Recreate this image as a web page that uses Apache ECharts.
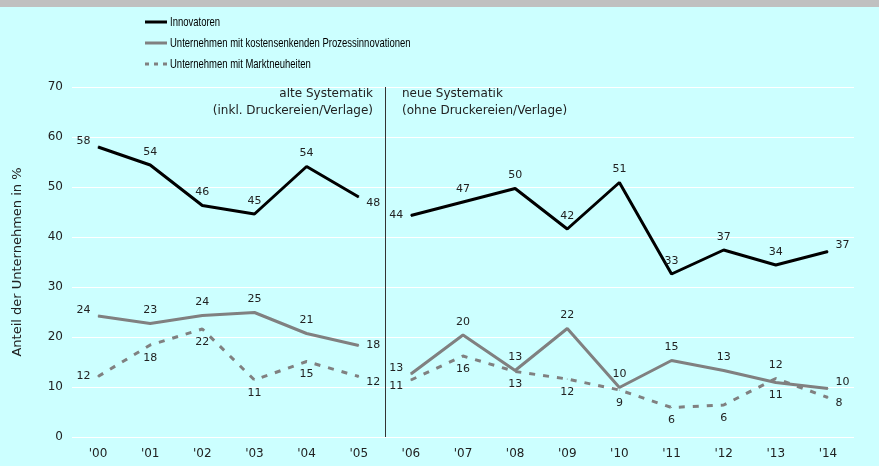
<!DOCTYPE html>
<html lang="de">
<head>
    <meta charset="UTF-8">
    <title>Innovatoren</title>
    <script src="https://cdn.jsdelivr.net/npm/echarts@6/dist/echarts.min.js"></script>
    <style>
        html, body { margin: 0; padding: 0; background: #ccffff; }
        #chart { width: 879px; height: 466px; }
    </style>
</head>
<body>
    <div id="chart"></div>
    <script>
        var years = ["'00", "'01", "'02", "'03", "'04", "'05", "'06", "'07", "'08", "'09", "'10", "'11", "'12", "'13", "'14"];
        var yTicks = [0, 10, 20, 30, 40, 50, 60, 70];
        var innovatoren = [58, 54.4, 46.3, 44.6, 54.1, 48, 44.3, 47, 49.7, 41.6, 50.9, 32.6, 37.4, 34.4, 37.1];
        var prozess = [24.2, 22.7, 24.3, 24.9, 20.7, 18.3, 12.6, 20.4, 13.3, 21.7, 9.9, 15.3, 13.3, 10.9, 9.7];
        var markt = [12.1, 18.4, 21.6, 11.4, 15.1, 12.1, 11.4, 16.2, 13.1, 11.6, 9.4, 5.9, 6.4, 11.7, 7.9];
        var names = ['Innovatoren', 'Unternehmen mit kostensenkenden Prozessinnovationen', 'Unternehmen mit Marktneuheiten'];
        var breakIndex = 6; // ab '06 neue Systematik

        // Lage der Beschriftung je Punkt
        var posInno = ['left-up', 'top', 'top', 'top', 'top', 'right-down', 'left', 'top', 'top', 'top', 'top', 'top', 'top', 'top', 'right-up'];
        var posProz = ['left-up', 'top', 'top', 'top', 'top', 'right', 'left-up', 'top', 'top', 'top', 'top', 'top', 'top', 'bottom', 'right-up'];
        var posMarkt = ['left', 'bottom', 'bottom', 'bottom', 'bottom', 'right-down', 'left-down', 'bottom', 'bottom', 'bottom', 'bottom', 'bottom', 'bottom', 'top', 'right-down'];

        var labelFont = 'DejaVu Sans, Verdana, sans-serif';

        function part(values, pos, from, to) {
            return values.map(function (v, i) {
                if (i < from || i >= to) return '-';
                var p = pos[i].split('-');
                var dy = p[1] === 'up' ? -6 : (p[1] === 'down' ? 6 : 0);
                return { value: v, label: { position: p[0], offset: [0, dy] } };
            });
        }

        function makeSeries(name, values, pos, lineStyle) {
            var base = {
                name: name,
                type: 'line',
                symbol: 'circle',
                symbolSize: 1,
                showSymbol: true,
                lineStyle: lineStyle,
                itemStyle: { color: lineStyle.color },
                label: {
                    show: true,
                    color: '#222',
                    fontFamily: labelFont,
                    fontSize: 11,
                    distance: 7,
                    formatter: function (p) { return Math.round(p.value); }
                },
                animation: false
            };
            var a = Object.assign({}, base, { data: part(values, pos, 0, breakIndex) });
            var b = Object.assign({}, base, { data: part(values, pos, breakIndex, values.length) });
            return [a, b];
        }

        var series = [].concat(
            makeSeries(names[0], innovatoren, posInno, { color: '#000', width: 3, type: 'solid' }),
            makeSeries(names[1], prozess, posProz, { color: '#808080', width: 3, type: 'solid' }),
            makeSeries(names[2], markt, posMarkt, { color: '#808080', width: 3, type: [6, 8] })
        );

        // Trennlinie zwischen alter und neuer Systematik
        series.push({
            name: 'trenn',
            type: 'line',
            xAxisIndex: 1,
            data: [],
            markLine: {
                silent: true,
                symbol: 'none',
                label: { show: false },
                lineStyle: { color: '#333', width: 1, type: 'solid' },
                data: [{ xAxis: breakIndex }]
            },
            animation: false
        });

        // Legende (Schrift schmal gestaucht wie im Original)
        var legendFont = '13px Liberation Sans, Arial, sans-serif';
        var legendItems = [
            { type: 'line', shape: { x1: 145, y1: 22, x2: 167, y2: 22 }, style: { stroke: '#000', lineWidth: 3 } },
            { type: 'text', x: 170, y: 22, scaleX: 0.73, style: { text: names[0], fill: '#000', font: legendFont, textVerticalAlign: 'middle' } },
            { type: 'line', shape: { x1: 145, y1: 43, x2: 167, y2: 43 }, style: { stroke: '#808080', lineWidth: 3 } },
            { type: 'text', x: 170, y: 43, scaleX: 0.73, style: { text: names[1], fill: '#000', font: legendFont, textVerticalAlign: 'middle' } },
            { type: 'line', shape: { x1: 145, y1: 64, x2: 167, y2: 64 }, style: { stroke: '#808080', lineWidth: 3, lineDash: [4, 5] } },
            { type: 'text', x: 170, y: 64, scaleX: 0.73, style: { text: names[2], fill: '#000', font: legendFont, textVerticalAlign: 'middle' } }
        ];

        var chart = echarts.init(document.getElementById('chart'));
        chart.setOption({
            backgroundColor: '#ccffff',
            animation: false,
            textStyle: { fontFamily: labelFont },
            grid: { left: 72, right: 25, top: 87, bottom: 29 },
            xAxis: [{
                type: 'category',
                data: years,
                boundaryGap: true,
                axisLine: { show: false },
                axisTick: { show: false },
                axisLabel: { color: '#222', fontSize: 12, margin: 11 }
            }, {
                type: 'value',
                min: 0,
                max: years.length,
                show: false
            }],
            yAxis: {
                type: 'value',
                min: yTicks[0],
                max: yTicks[yTicks.length - 1],
                interval: 10,
                name: 'Anteil der Unternehmen in %',
                nameLocation: 'middle',
                nameGap: 48,
                nameTextStyle: { color: '#222', fontSize: 13 },
                axisLine: { show: false },
                axisTick: { show: false },
                axisLabel: { color: '#222', fontSize: 12, margin: 9 },
                splitLine: { lineStyle: { color: '#ffffff', width: 1 } }
            },
            graphic: [
                { type: 'rect', left: 0, top: 0, shape: { width: 879, height: 7 }, style: { fill: '#c0c0c0' } },
                { type: 'text', right: 506, top: 88, style: { text: 'alte Systematik', fill: '#222', font: '12px DejaVu Sans', textAlign: 'right' } },
                { type: 'text', right: 506, top: 105, style: { text: '(inkl. Druckereien/Verlage)', fill: '#222', font: '12px DejaVu Sans', textAlign: 'right' } },
                { type: 'text', left: 402, top: 88, style: { text: 'neue Systematik', fill: '#222', font: '12px DejaVu Sans' } },
                { type: 'text', left: 402, top: 105, style: { text: '(ohne Druckereien/Verlage)', fill: '#222', font: '12px DejaVu Sans' } }
            ].concat(legendItems),
            series: series
        });
    </script>
</body>
</html>
